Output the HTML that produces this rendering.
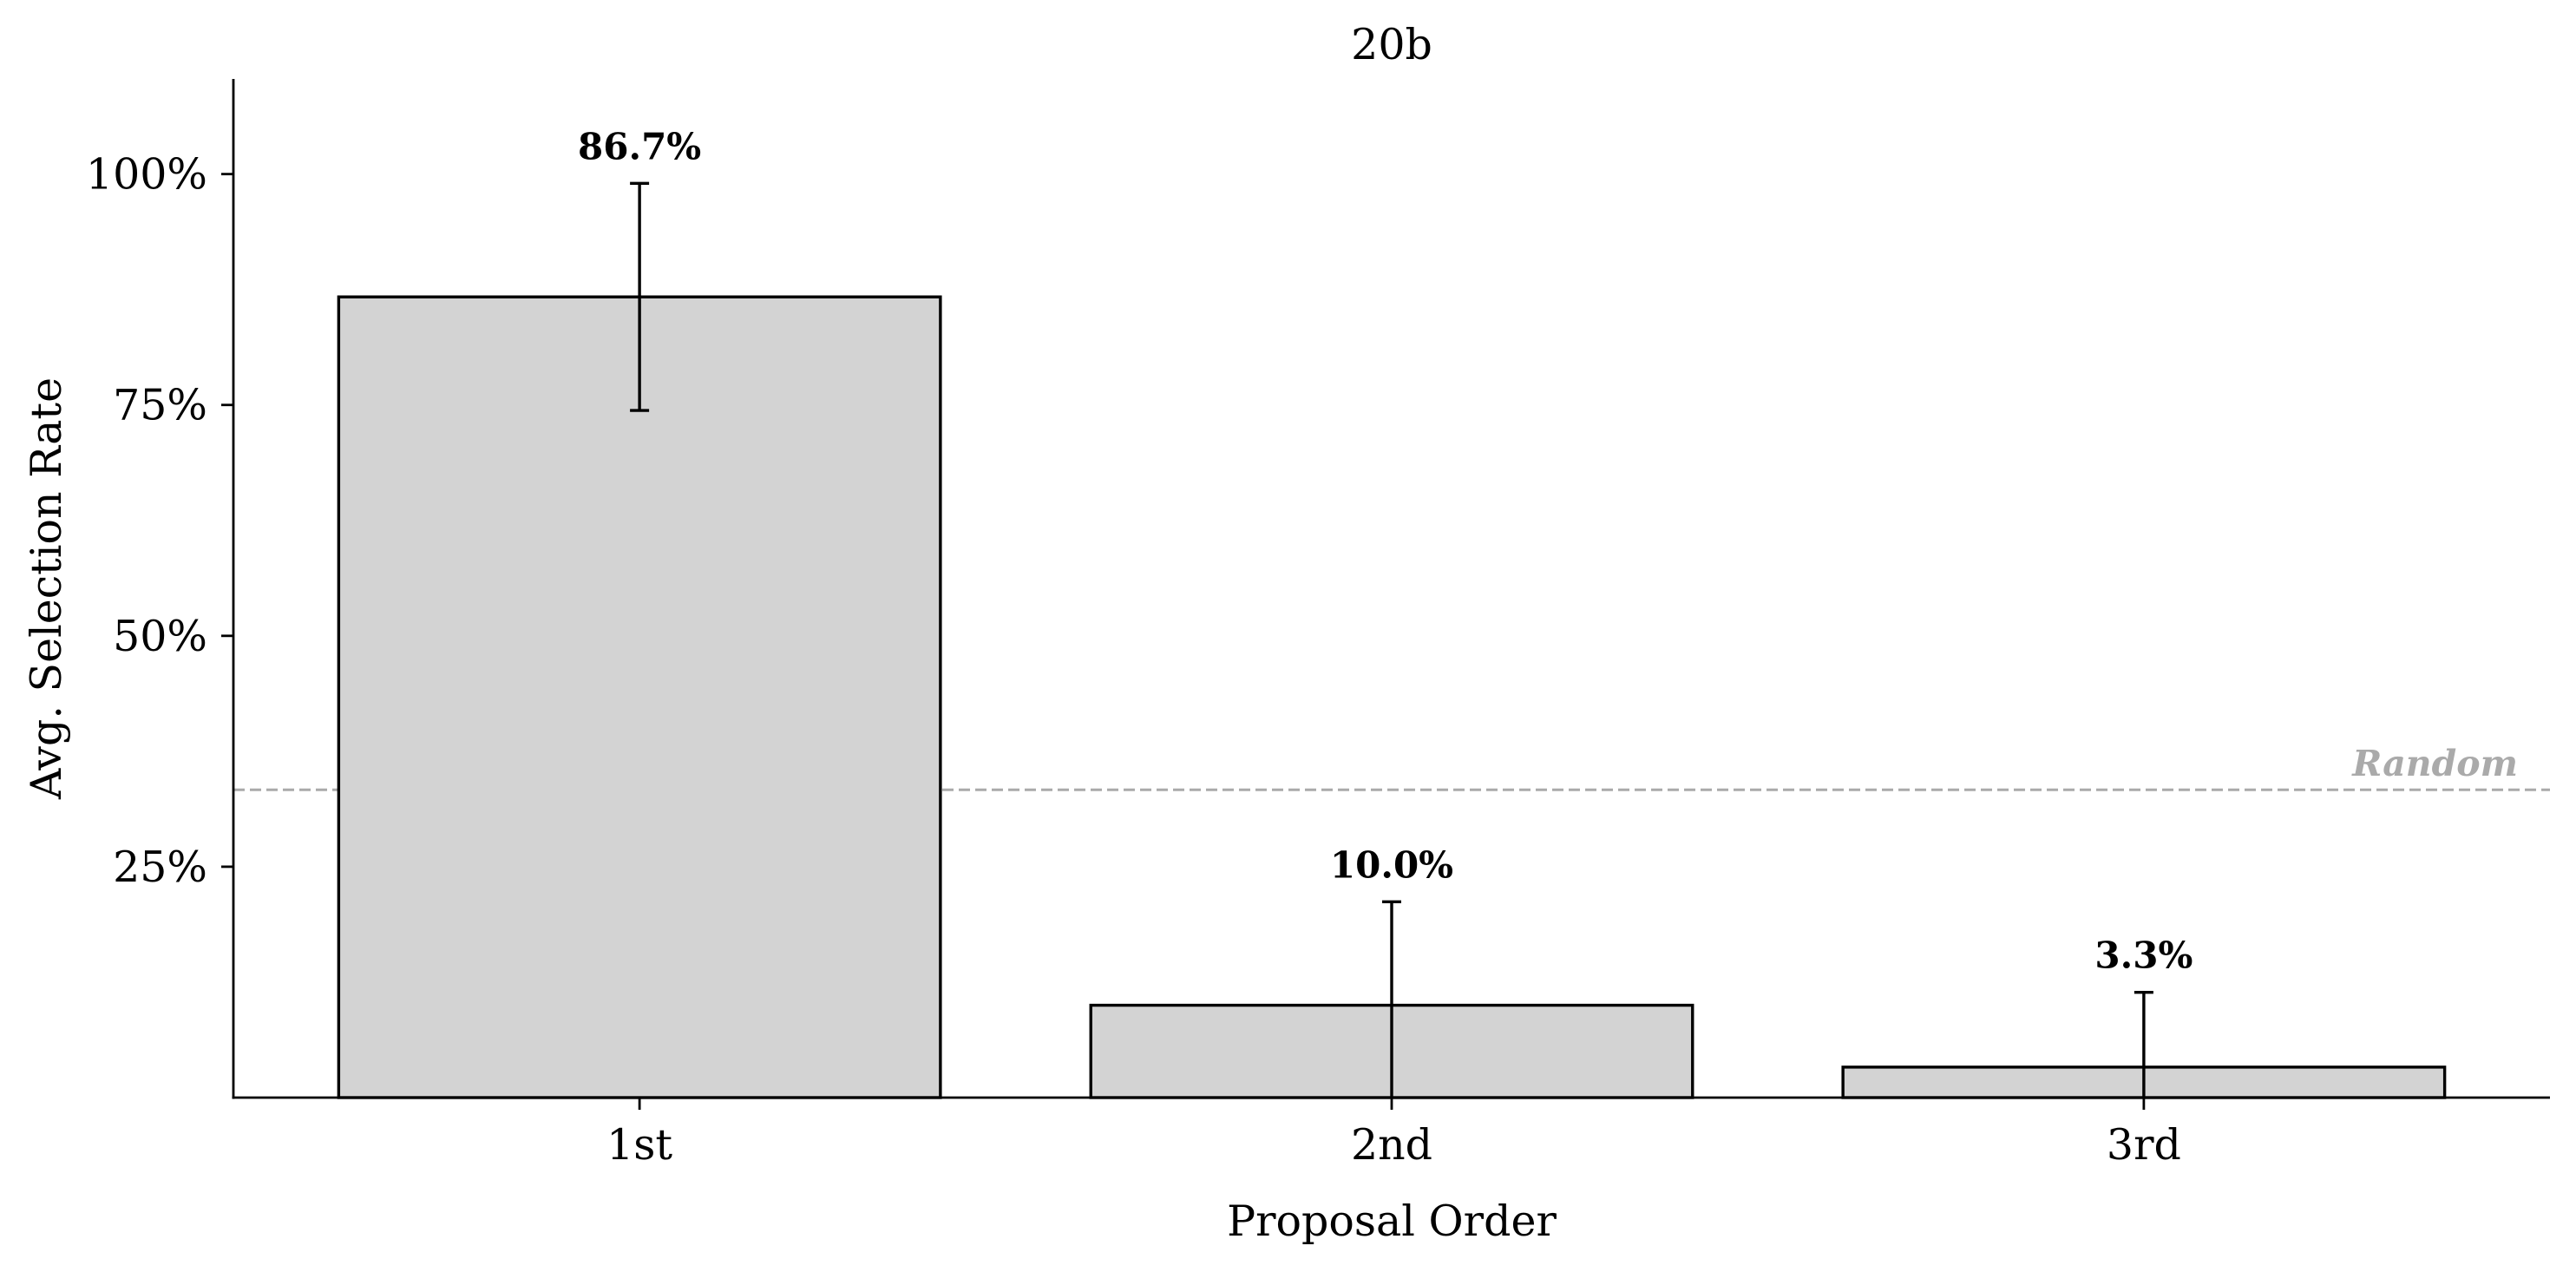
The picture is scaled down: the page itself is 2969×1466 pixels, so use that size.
<!DOCTYPE html>
<html><head><meta charset="utf-8"><style>
html,body{margin:0;padding:0;background:#fff}
svg{display:block}
text{font-family:"DejaVu Serif","Liberation Serif",serif;fill:#000}
</style></head><body>
<svg id="chart" width="2969" height="1466" viewBox="0 0 2969 1466"></svg>
<script>
const categories = ["1st", "2nd", "3rd"];
const values = [86.7, 10.0, 3.3];
const errors = [12.3, 11.2, 8.1];
const valueLabels = ["86.7%", "10.0%", "3.3%"];
const yTicks = [25, 50, 75, 100];
const yTickLabels = ["25%", "50%", "75%", "100%"];
const randomLevel = 33.33;

const svg = document.getElementById('chart');
const NS = 'http://www.w3.org/2000/svg';
const L = 269, R = 2939, T = 91, B = 1265;
const xMin = -0.54, xMax = 2.54, yMin = 0, yMax = 110.3;
const xs = v => L + (v - xMin) / (xMax - xMin) * (R - L);
const ys = v => B - (v - yMin) / (yMax - yMin) * (B - T);
const bw = 0.8 * (xs(1) - xs(0));

function mk(tag, attrs, parent) {
  const e = document.createElementNS(NS, tag);
  for (const k in attrs) e.setAttribute(k, attrs[k]);
  (parent || svg).appendChild(e);
  return e;
}

const rl = mk('line', {x1: L, x2: R, y1: ys(randomLevel), y2: ys(randomLevel), stroke: '#aaaaaa', 'stroke-width': 3, 'stroke-dasharray': '13 6'});


const rt = mk('text', {x: 2902, y: ys(randomLevel) - 16, 'text-anchor': 'end', 'font-size': 41, 'font-style': 'italic', 'font-weight': 'bold', style: 'fill:#aaaaaa'});
rt.textContent = 'Random';



categories.forEach((c, i) => {
  const cx = xs(i);
  const bar = mk('rect', {x: cx - bw / 2, y: ys(values[i]), width: bw, height: ys(0) - ys(values[i]), fill: '#d3d3d3', stroke: '#000', 'stroke-width': 3.4});
  
  
  const top = ys(values[i] + errors[i]);
  const bot = Math.min(ys(Math.max(values[i] - errors[i], 0)), B);
  const g = mk('g', {stroke: '#000', 'stroke-width': 3.4});
  
  
  mk('line', {x1: cx, x2: cx, y1: top, y2: bot}, g);
  mk('line', {x1: cx - 11, x2: cx + 11, y1: top, y2: top}, g);
  if (values[i] - errors[i] > 0) mk('line', {x1: cx - 11, x2: cx + 11, y1: bot, y2: bot}, g);
  const vl = mk('text', {x: cx, y: top - 28, 'text-anchor': 'middle', 'font-size': 42, 'font-weight': 'bold'});
  vl.textContent = valueLabels[i];
  
  
  const tk = mk('line', {x1: cx, x2: cx, y1: B, y2: B + 14, stroke: '#000', 'stroke-width': 2.8});
  
  
  const tl = mk('text', {x: cx, y: 1336, 'text-anchor': 'middle', 'font-size': 49});
  tl.textContent = c;
  
  
});

yTicks.forEach((v, i) => {
  const y = ys(v);
  const tk = mk('line', {x1: L - 14, x2: L, y1: y, y2: y, stroke: '#000', 'stroke-width': 2.8});
  
  
  const tl = mk('text', {x: 239, y: y + 17, 'text-anchor': 'end', 'font-size': 49});
  tl.textContent = yTickLabels[i];
  
  
});

const ya = mk('line', {x1: L, x2: L, y1: T, y2: B + 1.5, stroke: '#000', 'stroke-width': 2.8});


const xa = mk('line', {x1: L - 1.5, x2: R, y1: B, y2: B, stroke: '#000', 'stroke-width': 2.8});



const title = mk('text', {x: 1604, y: 68, 'text-anchor': 'middle', 'font-size': 49});
title.textContent = '20b';


const xl = mk('text', {x: 1604, y: 1424, 'text-anchor': 'middle', 'font-size': 49});
xl.textContent = 'Proposal Order';


const yl = mk('text', {x: 0, y: 0, 'text-anchor': 'middle', 'font-size': 49, transform: 'translate(70,678) rotate(-90)'});
yl.textContent = 'Avg. Selection Rate';


</script>
</body></html>
